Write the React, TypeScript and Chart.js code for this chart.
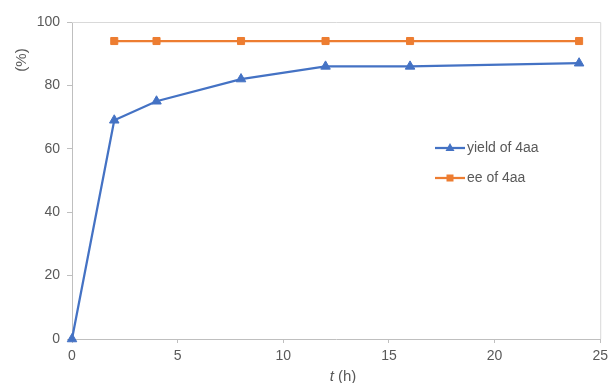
import React, { useEffect, useRef } from "react";
import { Chart, registerables } from "chart.js";

Chart.register(...registerables);

const times = [0, 2, 4, 8, 12, 16, 24];
const yieldValues = [0, 69, 75, 82, 86, 86, 87];
const eeTimes = [2, 4, 8, 12, 16, 24];
const eeValues = [94, 94, 94, 94, 94, 94];
const seriesLabels = ["yield of 4aa", "ee of 4aa"];
const seriesColors = ["#4472C4", "#ED7D31"];
const xMin = 0;
const xMax = 25;
const xStep = 5;
const yMin = 0;
const yMax = 100;
const yStep = 20;
const yTitle = "(%)";
const xTitleItalic = "t";
const xTitleRest = " (h)";

const FONT = "'Liberation Sans', Arial, sans-serif";
const TEXT = "#595959";

const decorPlugin = {
  id: "decor",
  afterDraw(chart: any) {
    const ctx = chart.ctx as CanvasRenderingContext2D;
    const { left, right, top, bottom } = chart.chartArea;
    ctx.save();
    // top & right border
    ctx.strokeStyle = "#d9d9d9";
    ctx.lineWidth = 1;
    ctx.beginPath();
    ctx.moveTo(left, top + 0.5);
    ctx.lineTo(right + 0.5, top + 0.5);
    ctx.lineTo(right + 0.5, bottom);
    ctx.stroke();

    // legend
    const items = [
      { label: seriesLabels[0], color: seriesColors[0], style: "triangle", y: 148 },
      { label: seriesLabels[1], color: seriesColors[1], style: "rect", y: 178 },
    ];
    items.forEach((it) => {
      ctx.strokeStyle = it.color;
      ctx.fillStyle = it.color;
      ctx.lineWidth = 2.25;
      ctx.beginPath();
      ctx.moveTo(435, it.y);
      ctx.lineTo(465, it.y);
      ctx.stroke();
      const cx = 450;
      if (it.style === "triangle") {
        ctx.beginPath();
        ctx.moveTo(cx, it.y - 5);
        ctx.lineTo(cx + 4.5, it.y + 3);
        ctx.lineTo(cx - 4.5, it.y + 3);
        ctx.closePath();
        ctx.fill();
      } else {
        ctx.fillRect(cx - 3.5, it.y - 3.5, 7, 7);
      }
      ctx.fillStyle = TEXT;
      ctx.font = `14px ${FONT}`;
      ctx.textBaseline = "middle";
      ctx.textAlign = "left";
      ctx.fillText(it.label, 467, it.y);
    });

    // x title
    ctx.fillStyle = TEXT;
    ctx.textBaseline = "middle";
    ctx.textAlign = "left";
    ctx.font = `italic 15px ${FONT}`;
    const w1 = ctx.measureText(xTitleItalic).width;
    ctx.font = `15px ${FONT}`;
    const w2 = ctx.measureText(xTitleRest).width;
    const startX = 343 - (w1 + w2) / 2;
    ctx.font = `italic 15px ${FONT}`;
    ctx.fillText(xTitleItalic, startX, 377);
    ctx.font = `15px ${FONT}`;
    ctx.fillText(xTitleRest, startX + w1, 377);

    // y title
    ctx.translate(22, 60);
    ctx.rotate(-Math.PI / 2);
    ctx.textAlign = "center";
    ctx.font = `15px ${FONT}`;
    ctx.fillText(yTitle, 0, 0);
    ctx.restore();
  },
};

export default function App() {
  const ref = useRef<HTMLCanvasElement>(null);
  useEffect(() => {
    document.body.style.margin = "0";
    const canvas = ref.current!;
    const chart = new Chart(canvas, {
      type: "line",
      data: {
        datasets: [
          {
            label: seriesLabels[0],
            data: times.map((t, i) => ({ x: t, y: yieldValues[i] })),
            borderColor: seriesColors[0],
            backgroundColor: seriesColors[0],
            borderWidth: 2.25,
            pointStyle: "triangle",
            pointRadius: 5.5,
            pointBorderWidth: 1,
            tension: 0,
            clip: false as any,
          },
          {
            label: seriesLabels[1],
            data: eeTimes.map((t, i) => ({ x: t, y: eeValues[i] })),
            borderColor: seriesColors[1],
            backgroundColor: seriesColors[1],
            borderWidth: 2.25,
            pointStyle: "rect",
            pointRadius: 5,
            pointBorderWidth: 1,
            tension: 0,
            clip: false as any,
          },
        ],
      },
      options: {
        responsive: false,
        animation: false,
        devicePixelRatio: 1,
        layout: { padding: { top: 22, right: 10, left: 0, bottom: 0 } },
        plugins: {
          legend: { display: false },
          tooltip: { enabled: false },
        },
        scales: {
          x: {
            type: "linear",
            min: xMin,
            max: xMax,
            ticks: {
              stepSize: xStep,
              color: TEXT,
              font: { family: FONT, size: 14 },
              padding: 5,
              maxRotation: 0,
            },
            grid: {
              drawOnChartArea: false,
              drawTicks: true,
              tickLength: 4,
              color: "#bfbfbf",
            },
            border: { color: "#bfbfbf", width: 1 },
            afterFit: (s: any) => {
              s.height = 44;
            },
          },
          y: {
            min: yMin,
            max: yMax,
            ticks: {
              stepSize: yStep,
              color: TEXT,
              font: { family: FONT, size: 14 },
              padding: 7,
            },
            grid: {
              drawOnChartArea: false,
              drawTicks: true,
              tickLength: 5,
              color: "#bfbfbf",
            },
            border: { color: "#bfbfbf", width: 1 },
            afterFit: (s: any) => {
              s.width = 72;
            },
          },
        },
      },
      plugins: [decorPlugin],
    });
    return () => chart.destroy();
  }, []);
  return (
    <div style={{ width: 613, height: 383, background: "#fff" }}>
      <canvas ref={ref} width={613} height={383} style={{ display: "block" }} />
    </div>
  );
}
